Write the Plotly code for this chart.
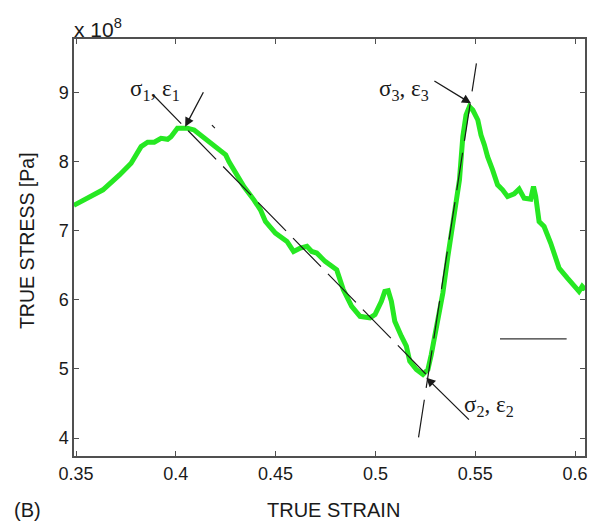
import plotly.graph_objects as go

# True stress-strain curve (stress in units of 1e8 Pa)
strain = [0.3489, 0.3552, 0.3635, 0.3718, 0.3776, 0.3826, 0.3859, 0.3892, 0.3926, 0.3959,
          0.3976, 0.4008, 0.4058, 0.4092, 0.4133, 0.4200, 0.4250, 0.4266, 0.4300, 0.4341,
          0.4391, 0.4424, 0.4449, 0.4499, 0.4557, 0.4590, 0.4624, 0.4657, 0.4681, 0.4706,
          0.4748, 0.4798, 0.4806, 0.4839, 0.4881, 0.4923, 0.4973, 0.4998, 0.5030, 0.5047,
          0.5064, 0.5080, 0.5097, 0.5130, 0.5155, 0.5172, 0.5205, 0.5238, 0.5263, 0.5280,
          0.5313, 0.5338, 0.5363, 0.5396, 0.5421, 0.5438, 0.5454, 0.5471, 0.5488, 0.5513,
          0.5529, 0.5546, 0.5562, 0.5587, 0.5612, 0.5637, 0.5662, 0.5695, 0.5720, 0.5745,
          0.5778, 0.5792, 0.5803, 0.5820, 0.5845, 0.5878, 0.5920, 0.5961, 0.6003, 0.6020,
          0.6036, 0.6052]
stress = [7.365, 7.469, 7.589, 7.805, 7.974, 8.214, 8.277, 8.277, 8.335, 8.320,
          8.358, 8.479, 8.479, 8.455, 8.358, 8.214, 8.094, 7.997, 7.830, 7.636,
          7.444, 7.300, 7.131, 6.964, 6.843, 6.698, 6.747, 6.771, 6.698, 6.675,
          6.554, 6.459, 6.434, 6.146, 5.905, 5.760, 5.737, 5.785, 5.977, 6.121,
          6.131, 5.977, 5.688, 5.472, 5.328, 5.111, 4.991, 4.919, 4.991, 5.208,
          5.665, 6.098, 6.626, 7.203, 7.733, 8.358, 8.671, 8.791, 8.743, 8.599,
          8.382, 8.238, 8.069, 7.877, 7.661, 7.589, 7.492, 7.531, 7.599, 7.469,
          7.455, 7.636, 7.492, 7.131, 7.059, 6.820, 6.459, 6.315, 6.193, 6.121,
          6.193, 6.146]

# Softening tangent (sigma1 -> sigma2) and reloading tangent (through sigma3)
soft_x = [0.3887, 0.5263]
soft_y = [8.960, 4.895]
reload_x = [0.5216, 0.5506]
reload_y = [4.01, 9.417]
tick_x = [0.4181, 0.4196]
tick_y = [8.524, 8.481]
bar_x = [0.5624, 0.5958]
bar_y = [5.434, 5.434]

# Marked points: (label, label x, label y, arrow tail x, tail y, head x, head y)
points = [
    ("σ<sub>1</sub>, ε<sub>1</sub>", 0.3897, 9.03, 0.4142, 9.022, 0.4047, 8.502),
    ("σ<sub>3</sub>, ε<sub>3</sub>", 0.5144, 9.03, 0.5288, 9.176, 0.5479, 8.840),
    ("σ<sub>2</sub>, ε<sub>2</sub>", 0.5567, 4.47, 0.5476, 4.245, 0.5255, 4.872),
]

x_ticks = [0.35, 0.4, 0.45, 0.5, 0.55, 0.6]
x_tick_text = ["0.35", "0.4", "0.45", "0.5", "0.55", "0.6"]
y_ticks = [4, 5, 6, 7, 8, 9]
y_tick_text = ["4", "5", "6", "7", "8", "9"]

ink = "#1a1a1a"
frame = "#505050"

fig = go.Figure()
fig.add_trace(go.Scatter(x=strain, y=stress, mode="lines",
                         line=dict(color="rgb(38,232,34)", width=5),
                         hoverinfo="skip"))
fig.add_trace(go.Scatter(x=soft_x, y=soft_y, mode="lines",
                         line=dict(color=ink, width=1.2, dash="40px,10px")))
fig.add_trace(go.Scatter(x=reload_x, y=reload_y, mode="lines",
                         line=dict(color=ink, width=1.2, dash="38px,12px")))
fig.add_trace(go.Scatter(x=tick_x, y=tick_y, mode="lines",
                         line=dict(color=ink, width=1.2)))
fig.add_trace(go.Scatter(x=bar_x, y=bar_y, mode="lines",
                         line=dict(color="#333333", width=1.3)))

for label, lx, ly, tx, ty, hx, hy in points:
    fig.add_annotation(x=lx, y=ly, text=label, showarrow=False,
                       xanchor="center", yanchor="middle",
                       font=dict(family="Liberation Serif", size=23, color=ink))
    fig.add_annotation(x=hx, y=hy, ax=tx, ay=ty, axref="x", ayref="y",
                       text="", showarrow=True, arrowhead=2, arrowsize=1.4,
                       arrowwidth=1.3, arrowcolor=ink)

sans = "Liberation Sans"
fig.add_annotation(xref="paper", yref="paper", x=0.508, y=-0.1305,
                   text="TRUE STRAIN", showarrow=False,
                   xanchor="center", yanchor="middle",
                   font=dict(family=sans, size=20, color=ink))
fig.add_annotation(xref="paper", yref="paper", x=-0.0915, y=0.516,
                   text="TRUE STRESS [Pa]", showarrow=False, textangle=-90,
                   xanchor="center", yanchor="middle",
                   font=dict(family=sans, size=19.5, color=ink))
fig.add_annotation(xref="paper", yref="paper", x=-0.0915, y=-0.1305,
                   text="(B)", showarrow=False,
                   xanchor="center", yanchor="middle",
                   font=dict(family=sans, size=20, color=ink))
fig.add_annotation(xref="paper", yref="paper", x=-0.004, y=1.026,
                   text="x 10<sup>8</sup>", showarrow=False,
                   xanchor="left", yanchor="middle",
                   font=dict(family=sans, size=21, color=ink))

axis_common = dict(showline=True, linecolor=frame, linewidth=1.5,
                   mirror="ticks", ticks="inside", ticklen=5, tickwidth=1.2,
                   tickcolor=frame, showgrid=False, zeroline=False,
                   tickfont=dict(family=sans, size=18, color=ink))
fig.update_xaxes(range=[0.349, 0.605], tickvals=x_ticks, ticktext=x_tick_text,
                 ticklabelstandoff=1, **axis_common)
fig.update_yaxes(range=[3.74, 9.77], tickvals=y_ticks, ticktext=y_tick_text,
                 **axis_common)

fig.update_layout(width=595, height=524, showlegend=False,
                  margin=dict(l=74, r=7.5, t=39, b=67.5),
                  paper_bgcolor="white", plot_bgcolor="white")

fig.write_html("out.html")
